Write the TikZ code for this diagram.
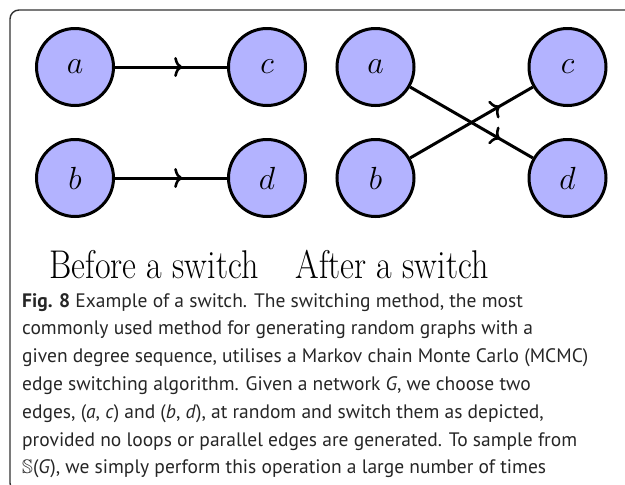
\RequirePackage{fix-cm}
\documentclass[tikz,border=0pt]{standalone}
\usepackage{amssymb}
\usepackage{fontspec}
\newfontfamily\legendefont{PT Sans}
\usetikzlibrary{positioning,arrows.meta,decorations.markings}
\definecolor{sommetFond}{HTML}{B3B3FF}
\definecolor{texteGris}{HTML}{262626}
\newcommand\taillesommet{\fontsize{32}{32}\selectfont}
\newcommand\taillelegende{\fontsize{19.5}{27.8}\selectfont}
\tikzset{
  sommet/.style={
    circle, draw=black, fill=sommetFond, line width=3pt,
    minimum size=77pt, inner sep=0pt, font=\taillesommet},
  arete/.style={line width=3pt, draw=black},
  flecheMilieu/.style={arete, decoration={markings,
      mark=at position #1 with {\arrow{Computer Modern Rightarrow[length=8pt,width=20pt,line width=2.6pt]}}},
    postaction={decorate}},
  titre/.style={anchor=base, font=\fontsize{34}{34}\selectfont},
  cadre/.style={draw=black!80, line width=1.4pt, rounded corners=9pt}
}
\begin{document}
\begin{tikzpicture}[x=1pt, y=-1pt]
  \useasboundingbox (0,0) rectangle (625,485);
  \clip (0,0) rectangle (625,485);

  % --- Cadre autour de la figure
  \draw[cadre] (10,10) rectangle (660,492);

  % --- Avant l'echange
  \node[sommet] (a1) at (75,67) {$a$};
  \node[sommet, right=112pt of a1] (c1) {$c$};
  \node[sommet, below=31pt of a1] (b1) {$b$};
  \node[sommet, below=31pt of c1] (d1) {$d$};

  \foreach \u/\v in {a1/c1, b1/d1}
    \draw[flecheMilieu=0.6] (\u) -- (\v);

  % --- Apres l'echange
  \node[sommet, right=28.5pt of c1] (a2) {$a$};
  \node[sommet, right=112pt of a2] (c2) {$c$};
  \node[sommet, below=31pt of a2] (b2) {$b$};
  \node[sommet, below=31pt of c2] (d2) {$d$};

  \foreach \u/\v in {a2/d2, b2/c2}
    \draw[flecheMilieu=0.73] (\u) -- (\v);

  % --- Titres
  \node[titre] (avant) at (154,278) {\scalebox{1}[1.18]{Before a switch}};
  \node[titre] (apres) at (392,278) {\scalebox{1}[1.18]{After a switch}};

  % --- Legende
  \node[anchor=north west, align=left, inner sep=0pt, text=texteGris,
        font=\legendefont\taillelegende] (legende) at (22,293)
  {\textbf{Fig. 8} Example of a switch. The switching method, the most\\
   commonly used method for generating random graphs with a\\
   given degree sequence, utilises a Markov chain Monte Carlo (MCMC)\\
   edge switching algorithm. Given a network \textit{G}, we choose two\\
   edges, (\textit{a}, \textit{c}) and (\textit{b}, \textit{d}), at random and switch them as depicted,\\
   provided no loops or parallel edges are generated. To sample from\\
   $\mathbb{S}$(\textit{G}), we simply perform this operation a large number of times};

\end{tikzpicture}
\end{document}
